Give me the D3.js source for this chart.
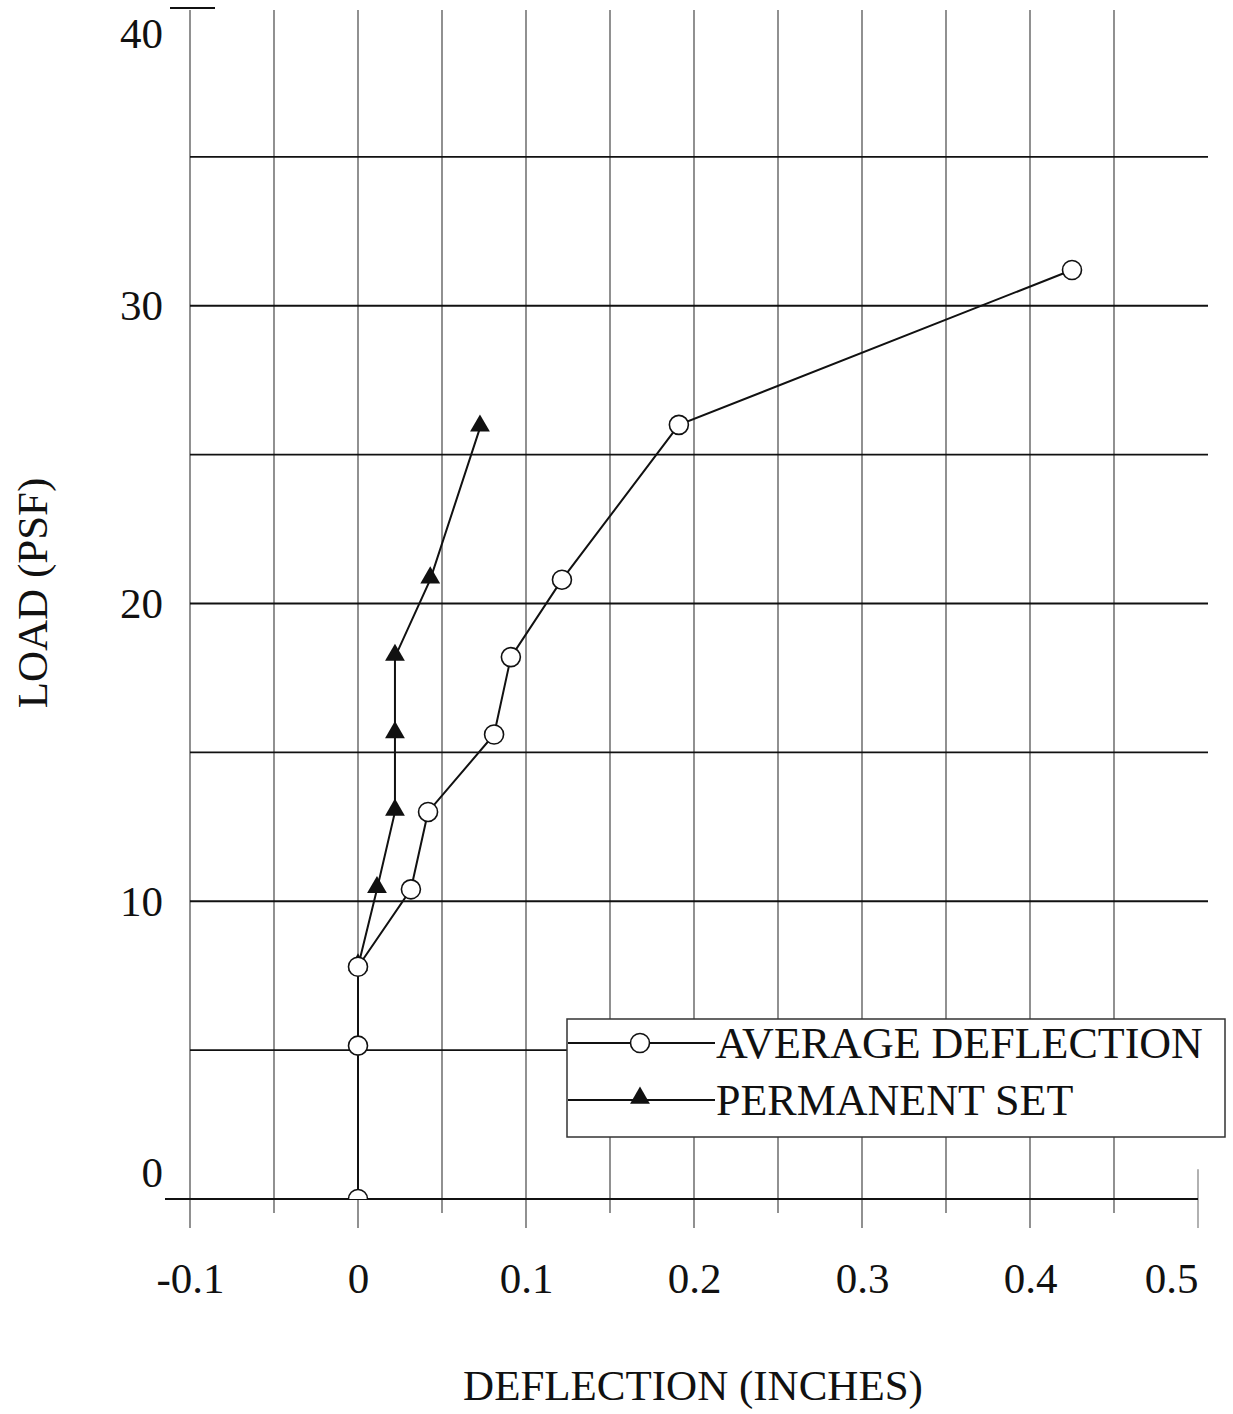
<!DOCTYPE html>
<html>
<head>
<meta charset="utf-8">
<script src="https://cdn.jsdelivr.net/npm/d3@7"></script>
<style>
  body { margin: 0; background: #fff; }
  text { font-family: "Liberation Serif", "Times New Roman", serif; fill: #111; }
</style>
</head>
<body>
<script>
// data
var avgDeflection = [0, 0, 0, 0.0315, 0.0417, 0.081, 0.091, 0.1214, 0.191, 0.425];
var avgLoad       = [0, 5.15, 7.8, 10.4, 13.0, 15.6, 18.2, 20.8, 26.0, 31.2];
var permDeflection = [0, 0.0113, 0.022, 0.022, 0.022, 0.043, 0.0726];
var permLoad       = [7.8, 10.4, 13.0, 15.6, 18.2, 20.8, 25.9];

var xTickLabels = [-0.1, 0, 0.1, 0.2, 0.3, 0.4, 0.5];
var xGrid = [-0.1, -0.05, 0, 0.05, 0.1, 0.15, 0.2, 0.25, 0.3, 0.35, 0.4, 0.45, 0.5];
var yTickLabels = [0, 10, 20, 30, 40];
var yGrid = [5, 10, 15, 20, 25, 30, 35];
var seriesNames = ["AVERAGE DEFLECTION", "PERMANENT SET"];

var width = 1233,
    height = 1414;

var svg = d3.select("body")
    .append("svg")
    .attr("width", width)
    .attr("height", height);

svg.append("rect")
    .attr("width", width)
    .attr("height", height)
    .attr("fill", "#fff");

var x = d3.scaleLinear()
    .domain([0, 0.5])
    .range([358, 1198]);

var y = d3.scaleLinear()
    .domain([0, 40])
    .range([1199, 8]);

var g = svg.append("g");

// vertical grid lines, the 0.1 ones hang lower
g.append("g")
    .attr("class", "vgrid")
  .selectAll("line")
  .data(xGrid)
  .enter().append("line")
    .attr("x1", function(d) { return x(d); })
    .attr("x2", function(d) { return x(d); })
    .attr("y1", function(d) { return d === 0.5 ? y(1) : 10; })
    .attr("y2", function(d) {
        var major = Math.abs(Math.round(d * 10) - d * 10) < 1e-6;
        return major ? 1228 : 1213;
    })
    .attr("stroke", function(d) { return d === 0.5 ? "#888" : "#555"; })
    .attr("stroke-width", 1.3);

// horizontal grid lines
g.append("g")
    .attr("class", "hgrid")
  .selectAll("line")
  .data(yGrid)
  .enter().append("line")
    .attr("x1", x(-0.1))
    .attr("x2", 1208)
    .attr("y1", function(d) { return y(d); })
    .attr("y2", function(d) { return y(d); })
    .attr("stroke", "#111")
    .attr("stroke-width", 1.8);

// bottom line and the short top tick
g.append("line")
    .attr("x1", 165).attr("x2", x(0.5))
    .attr("y1", y(0)).attr("y2", y(0))
    .attr("stroke", "#111").attr("stroke-width", 2);

g.append("line")
    .attr("x1", 170).attr("x2", 215)
    .attr("y1", y(40)).attr("y2", y(40))
    .attr("stroke", "#111").attr("stroke-width", 2);

// axes (labels only)
var xAxis = g.append("g")
    .attr("transform", "translate(0," + y(0) + ")")
    .call(d3.axisBottom(x)
        .tickValues(xTickLabels)
        .tickSize(0)
        .tickFormat(function(d) { return d === 0 ? "0" : d3.format(".1f")(d).replace("\u2212", "-"); }));
xAxis.select(".domain").remove();
xAxis.selectAll("text")
    .attr("y", 94)
    .attr("dy", 0)
    .attr("x", function(d) { return d === 0.5 ? -27 : 0; })
    .attr("font-size", 43)
    .attr("fill", "#111");

var yAxis = g.append("g")
    .attr("transform", "translate(" + x(-0.1) + ",0)")
    .call(d3.axisLeft(y)
        .tickValues(yTickLabels)
        .tickSize(0)
        .tickPadding(27));
yAxis.select(".domain").remove();
yAxis.selectAll("text")
    .attr("font-size", 43)
    .attr("fill", "#111")
    .attr("y", function(d) {
        if (d === 40) return 26;
        if (d === 0) return -26;
        return 0;
    });

// axis titles
svg.append("text")
    .attr("x", 693)
    .attr("y", 1400)
    .attr("text-anchor", "middle")
    .attr("font-size", 43)
    .text("DEFLECTION (INCHES)");

svg.append("text")
    .attr("transform", "translate(47,593) rotate(-90)")
    .attr("text-anchor", "middle")
    .attr("font-size", 43)
    .text("LOAD (PSF)");

// series
var avgData = avgDeflection.map(function(d, i) { return [d, avgLoad[i]]; });
var permData = permDeflection.map(function(d, i) { return [d, permLoad[i]]; });

var line = d3.line()
    .x(function(d) { return x(d[0]); })
    .y(function(d) { return y(d[1]); });

svg.append("clipPath")
    .attr("id", "plotclip")
  .append("rect")
    .attr("x", 0).attr("y", 0)
    .attr("width", width).attr("height", y(0));

var plot = svg.append("g").attr("clip-path", "url(#plotclip)");

plot.append("path")
    .datum(avgData)
    .attr("d", line)
    .attr("fill", "none")
    .attr("stroke", "#111")
    .attr("stroke-width", 2);

plot.append("path")
    .datum(permData)
    .attr("d", line)
    .attr("fill", "none")
    .attr("stroke", "#111")
    .attr("stroke-width", 2);

var tri = d3.symbol().type(d3.symbolTriangle).size(170);

plot.selectAll("path.perm")
  .data(permData)
  .enter().append("path")
    .attr("class", "perm")
    .attr("d", tri)
    .attr("transform", function(d) { return "translate(" + x(d[0]) + "," + (y(d[1]) - 2) + ")"; })
    .attr("fill", "#111");

plot.selectAll("circle.avg")
  .data(avgData)
  .enter().append("circle")
    .attr("class", "avg")
    .attr("cx", function(d) { return x(d[0]); })
    .attr("cy", function(d) { return y(d[1]); })
    .attr("r", 9.5)
    .attr("fill", "#fff")
    .attr("stroke", "#111")
    .attr("stroke-width", 1.6);

// legend
var legend = svg.append("g");

legend.append("rect")
    .attr("x", 567).attr("y", 1019)
    .attr("width", 658).attr("height", 118)
    .attr("fill", "#fff")
    .attr("stroke", "#333")
    .attr("stroke-width", 1.5);

var rows = [1043, 1100];

legend.selectAll("line")
  .data(seriesNames)
  .enter().append("line")
    .attr("x1", 568).attr("x2", 715)
    .attr("y1", function(d, i) { return rows[i]; })
    .attr("y2", function(d, i) { return rows[i]; })
    .attr("stroke", "#111")
    .attr("stroke-width", 1.8);

legend.append("circle")
    .attr("cx", 640).attr("cy", rows[0])
    .attr("r", 9.5)
    .attr("fill", "#fff")
    .attr("stroke", "#111")
    .attr("stroke-width", 1.6);

legend.append("path")
    .attr("d", tri)
    .attr("transform", "translate(640," + (rows[1] - 2) + ")")
    .attr("fill", "#111");

legend.selectAll("text")
  .data(seriesNames)
  .enter().append("text")
    .attr("x", 716)
    .attr("y", function(d, i) { return rows[i] + 15; })
    .attr("font-size", 44)
    .text(function(d) { return d; });
</script>
</body>
</html>
